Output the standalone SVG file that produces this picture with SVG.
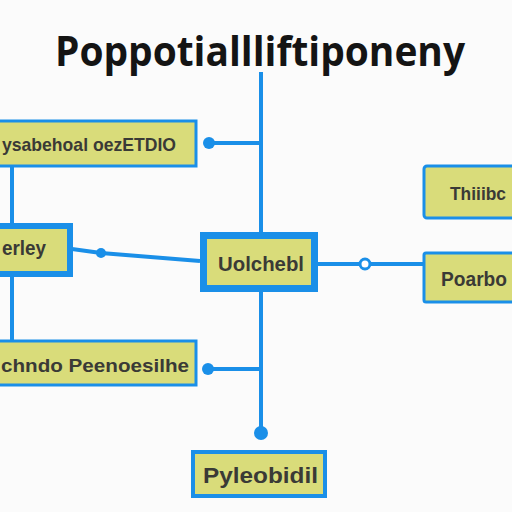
<svg xmlns="http://www.w3.org/2000/svg" width="512" height="512" viewBox="0 0 512 512">
<style>
.box{fill:#d9dc7a;stroke:#1a8fe8}
.lbl{font-family:"Liberation Sans",Arial,sans-serif;font-weight:bold;fill:#3a3a36}
.ln{stroke:#1a8fe8;stroke-width:4;fill:none}
.dot{fill:#1a8fe8}
</style>
<rect width="512" height="512" fill="#fbfbfb"/>
<text x="55" y="66" font-family="'Open Sans',sans-serif" font-weight="bold" font-size="42" fill="#141414" textLength="410" lengthAdjust="spacingAndGlyphs">Poppotiallliftiponeny</text>
<g id="connectors">
<line class="ln" x1="261" y1="72" x2="261" y2="430" stroke-width="5"/>
<circle class="dot" cx="261" cy="433" r="7"/>
<line class="ln" x1="209" y1="143" x2="261" y2="143"/>
<circle class="dot" cx="209" cy="143" r="6"/>
<line class="ln" x1="12" y1="166" x2="12" y2="224"/>
<line class="ln" x1="12" y1="277" x2="12" y2="341"/>
<polyline class="ln" points="72,249 101,253 200,261"/>
<circle class="dot" cx="101" cy="253" r="5"/>
<line class="ln" x1="318" y1="264" x2="424" y2="264"/>
<circle cx="365" cy="264" r="5" fill="#fff" stroke="#1a8fe8" stroke-width="3"/>
<line class="ln" x1="208" y1="369" x2="261" y2="369"/>
<circle class="dot" cx="208" cy="369" r="6"/>
</g>
<g id="n-top-left">
<rect class="box" x="-4" y="121" width="200" height="45" stroke-width="3"/>
<text class="lbl" x="2" y="151" font-size="19" textLength="174" lengthAdjust="spacingAndGlyphs">ysabehoal oezETDIO</text>
</g>
<g id="n-erley">
<rect class="box" x="-6" y="226" width="76" height="48" stroke-width="6"/>
<text class="lbl" x="2" y="255" font-size="21" textLength="44" lengthAdjust="spacingAndGlyphs">erley</text>
</g>
<g id="n-center">
<rect class="box" x="203.5" y="235.5" width="111" height="53" stroke-width="7"/>
<text class="lbl" x="261" y="271" font-size="21" text-anchor="middle" textLength="86" lengthAdjust="spacingAndGlyphs">Uolchebl</text>
</g>
<g id="n-right-top">
<rect class="box" x="424" y="166" width="96" height="52" rx="3" stroke-width="3"/>
<text class="lbl" x="450" y="200" font-size="18" textLength="56" lengthAdjust="spacingAndGlyphs">Thiiibc</text>
</g>
<g id="n-right">
<rect class="box" x="424" y="253" width="96" height="49" rx="2" stroke-width="3"/>
<text class="lbl" x="441" y="286" font-size="20" textLength="66" lengthAdjust="spacingAndGlyphs">Poarbo</text>
</g>
<g id="n-bottom-left">
<rect class="box" x="-4" y="341" width="200" height="44" stroke-width="3"/>
<text class="lbl" x="1" y="372" font-size="19" textLength="188" lengthAdjust="spacingAndGlyphs">chndo Peenoesilhe</text>
</g>
<g id="n-bottom">
<rect class="box" x="193" y="452" width="132" height="44" stroke-width="4"/>
<text class="lbl" x="203" y="483" font-size="22" textLength="115" lengthAdjust="spacingAndGlyphs">Pyleobidil</text>
</g>
</svg>
